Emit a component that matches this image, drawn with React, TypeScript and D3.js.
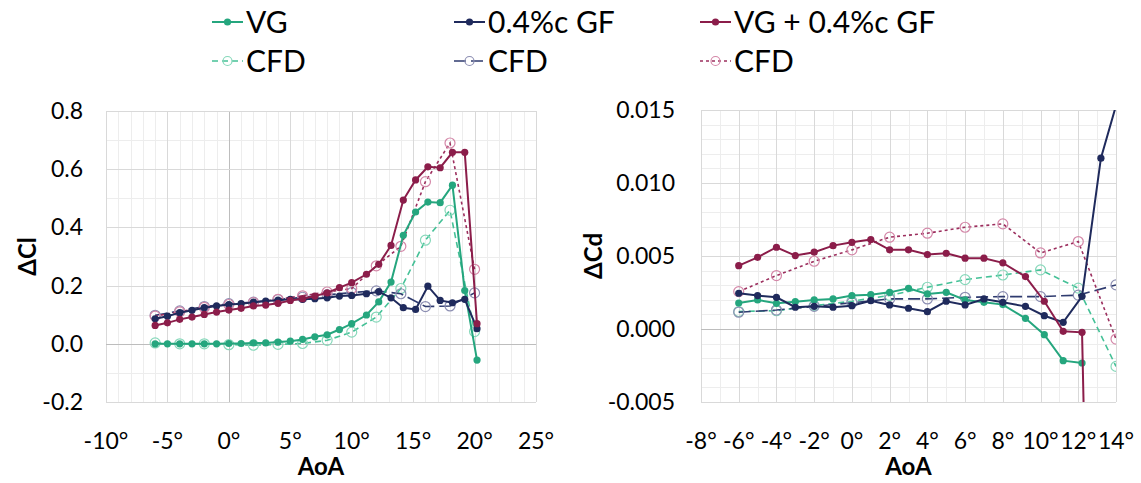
import * as d3 from "d3";

const FONT = "Lato, 'Open Sans', sans-serif";

// colours
const green = "#25a67e";
const navy = "#1f2a5c";
const maroon = "#8b1d4a";
const greenCfd = "#45c197";
const navyCfd = "#2f3b6f";
const maroonCfd = "#9c2f5e";
const greenRing = "#86d8ba";
const navyRing = "#8c8eb2";
const maroonRing = "#d487a8";

// ---- ΔCl panel (left) ----
const clAoa = [-6, -5, -4, -3, -2, -1, 0, 1, 2, 3, 4, 5, 6, 7, 8, 9, 10, 11.2, 12.2, 13.2, 14.2, 15.2, 16.2, 17.2, 18.2, 19.2, 20.2];
const clVG = [0, 0, 0, 0, 0, 0, 0.001, 0.001, 0.003, 0.003, 0.006, 0.009, 0.015, 0.024, 0.031, 0.049, 0.069, 0.099, 0.144, 0.212, 0.373, 0.453, 0.487, 0.485, 0.545, 0.183, -0.056];
const clGF = [0.086, 0.095, 0.107, 0.115, 0.124, 0.13, 0.135, 0.138, 0.143, 0.147, 0.15, 0.153, 0.153, 0.155, 0.158, 0.164, 0.166, 0.172, 0.179, 0.158, 0.124, 0.118, 0.198, 0.149, 0.141, 0.153, 0.052];
const clVGGF = [0.063, 0.072, 0.084, 0.092, 0.101, 0.109, 0.116, 0.122, 0.13, 0.133, 0.139, 0.149, 0.155, 0.164, 0.175, 0.193, 0.21, 0.239, 0.273, 0.338, 0.494, 0.563, 0.608, 0.605, 0.658, 0.658, 0.069];
const clCfdAoa = [-6, -4, -2, 0, 2, 4, 6, 8, 10, 12, 14, 16, 18, 20];
const clCfdVG = [0.003, 0, 0, -0.003, -0.005, -0.002, 0.001, 0.012, 0.04, 0.092, 0.19, 0.356, 0.459, 0.042];
const clCfdGF = [0.098, 0.113, 0.128, 0.138, 0.143, 0.152, 0.16, 0.168, 0.176, 0.182, 0.172, 0.128, 0.13, 0.175];
const clCfdVGGF = [0.095, 0.11, 0.125, 0.135, 0.142, 0.153, 0.165, 0.178, 0.19, 0.268, 0.335, 0.557, 0.69, 0.256];

// ---- ΔCd panel (right) ----
const cdAoa = [-6, -5, -4, -3, -2, -1, 0, 1, 2, 3, 4, 5, 6, 7, 8, 9.2, 10.2, 11.2, 12.2, 13.2, 14.2];
const cdVG = [0.00178, 0.00199, 0.00176, 0.00187, 0.00199, 0.00206, 0.00229, 0.00235, 0.00251, 0.00279, 0.0024, 0.00251, 0.00199, 0.00183, 0.00167, 0.00073, -0.00039, -0.00217, -0.00233, null, null];
const cdGF = [0.00245, 0.00229, 0.00217, 0.00149, 0.00155, 0.00149, 0.0016, 0.00194, 0.00165, 0.00142, 0.00119, 0.0019, 0.00165, 0.00206, 0.00183, 0.00155, 0.00091, 0.00046, 0.00224, 0.0117, 0.0162];
const cdVGGF = [0.00434, 0.00491, 0.0056, 0.00503, 0.00526, 0.00571, 0.00594, 0.00613, 0.00542, 0.00542, 0.0051, 0.00519, 0.00485, 0.00485, 0.00453, 0.00359, 0.0019, -0.00016, -0.00023, -0.06, null];
const cdCfdAoa = [-6, -4, -2, 0, 2, 4, 6, 8, 10, 12, 14];
const cdCfdVG = [0.0012, 0.00125, 0.0016, 0.0019, 0.0023, 0.00286, 0.00338, 0.0037, 0.00405, 0.0028, -0.00256];
const cdCfdGF = [0.00115, 0.0013, 0.00155, 0.0018, 0.00206, 0.00206, 0.00217, 0.00222, 0.00222, 0.00232, 0.00302];
const cdCfdVGGF = [0.00256, 0.00366, 0.00464, 0.00542, 0.00629, 0.00656, 0.00697, 0.0072, 0.00521, 0.00599, -0.00069];

const legendNames = ["VG", "0.4%c GF", "VG + 0.4%c GF"];

type Series = {
  x: number[];
  y: (number | null)[];
  color: string;
  width: number;
  dash?: string;
  ring?: string;
};

type PanelProps = {
  id: string;
  left: number;
  right: number;
  top: number;
  bottom: number;
  xDomain: [number, number];
  yDomain: [number, number];
  xMajor: number;
  yMajor: number;
  yMinor: number;
  yFmt: (v: number) => string;
  yLabelGap: number;
  yTitle: string;
  yTitleX: number;
  zeroX: boolean;
  series: Series[];
};

function Panel(p: PanelProps) {
  const x = d3.scaleLinear().domain(p.xDomain).range([p.left, p.right]);
  const y = d3.scaleLinear().domain(p.yDomain).range([p.bottom, p.top]);
  const px = (v: number) => Math.round(v) + 0.5;

  const xMinorTicks = d3.range(p.xDomain[0], p.xDomain[1] + 0.001, 1);
  const xMajorTicks = d3.range(p.xDomain[0], p.xDomain[1] + 0.001, p.xMajor);
  const nMinorY = Math.round((p.yDomain[1] - p.yDomain[0]) / p.yMinor);
  const yMinorTicks = d3.range(0, nMinorY + 1).map((i) => p.yDomain[0] + i * p.yMinor);
  const nMajorY = Math.round((p.yDomain[1] - p.yDomain[0]) / p.yMajor);
  const yMajorTicks = d3.range(0, nMajorY + 1).map((i) => p.yDomain[0] + i * p.yMajor);

  return (
    <g>
      <defs>
        <clipPath id={p.id}>
          <rect x={p.left} y={p.top} width={p.right - p.left} height={p.bottom - p.top} />
        </clipPath>
      </defs>
      {/* grid */}
      {xMinorTicks.map((t) => (
        <line key={"xm" + t} x1={px(x(t))} x2={px(x(t))} y1={p.top} y2={p.bottom} stroke="#ededed" />
      ))}
      {yMinorTicks.map((t, i) => (
        <line key={"ym" + i} x1={p.left} x2={p.right} y1={px(y(t))} y2={px(y(t))} stroke="#ededed" />
      ))}
      {xMajorTicks.map((t) => (
        <line key={"xM" + t} x1={px(x(t))} x2={px(x(t))} y1={p.top} y2={p.bottom}
          stroke={p.zeroX && Math.abs(t) < 1e-9 ? "#bdbdbd" : "#d9d9d9"} />
      ))}
      {yMajorTicks.map((t, i) => (
        <line key={"yM" + i} x1={p.left} x2={p.right} y1={px(y(t))} y2={px(y(t))}
          stroke={Math.abs(t) < 1e-9 ? "#bdbdbd" : "#d9d9d9"} />
      ))}
      {/* tick labels */}
      {yMajorTicks.map((t, i) => (
        <text key={"yl" + i} x={p.left - p.yLabelGap} y={y(t) + 8} textAnchor="end"
          fontFamily={FONT} fontSize={23} fill="#000">{p.yFmt(t)}</text>
      ))}
      {xMajorTicks.map((t) => (
        <text key={"xl" + t} x={x(t)} y={449} textAnchor="middle"
          fontFamily={FONT} fontSize={23} fill="#000">{`${t}°`}</text>
      ))}
      <text x={(p.left + p.right) / 2} y={475} textAnchor="middle" fontFamily={FONT}
        fontSize={24} fontWeight="bold">AoA</text>
      <text transform={`translate(${p.yTitleX},${(p.top + p.bottom) / 2}) rotate(-90)`}
        textAnchor="middle" fontFamily={FONT} fontSize={24} fontWeight="bold">{p.yTitle}</text>
      {/* series */}
      <g clipPath={`url(#${p.id})`}>
        {p.series.map((s, si) => {
          const pts = s.x.map((xv, i) => [xv, s.y[i]] as [number, number | null]);
          const line = d3.line<[number, number | null]>()
            .defined((d) => d[1] !== null)
            .x((d) => x(d[0]))
            .y((d) => y(d[1] as number));
          return (
            <g key={si}>
              <path d={line(pts) ?? ""} fill="none" stroke={s.color} strokeWidth={s.width}
                strokeDasharray={s.dash} />
              {pts.filter((d) => d[1] !== null).map((d, i) =>
                s.ring ? (
                  <circle key={i} cx={x(d[0])} cy={y(d[1] as number)} r={5} fill="none"
                    stroke={s.ring} strokeWidth={1.2} />
                ) : (
                  <circle key={i} cx={x(d[0])} cy={y(d[1] as number)} r={3.6} fill={s.color} />
                )
              )}
            </g>
          );
        })}
      </g>
    </g>
  );
}

function LegendItem({ x, y, color, ring, dash, label }: { x: number; y: number; color: string; ring?: string; dash?: string; label: string }) {
  return (
    <g>
      <line x1={x} x2={x + 31} y1={y} y2={y} stroke={color} strokeWidth={ring ? 1.4 : 2} strokeDasharray={dash} />
      {ring ? (
        <circle cx={x + 15.5} cy={y} r={4.5} fill="none" stroke={ring} strokeWidth={1.2} />
      ) : (
        <circle cx={x + 15.5} cy={y} r={3.6} fill={color} />
      )}
      <text x={x + 34} y={y + 11} fontFamily={FONT} fontSize={30} fill="#000">{label}</text>
    </g>
  );
}

export default function App() {
  const expColors = [green, navy, maroon];
  const cfdColors = [greenCfd, navyCfd, maroonCfd];
  const rings = [greenRing, navyRing, maroonRing];
  const dashes = ["6,4", "12,5", "3,3"];
  const legendX = [212, 454, 700];

  const clSeries: Series[] = [
    { x: clCfdAoa, y: clCfdVG, color: greenCfd, width: 1.6, dash: dashes[0], ring: greenRing },
    { x: clCfdAoa, y: clCfdGF, color: navyCfd, width: 1.6, dash: dashes[1], ring: navyRing },
    { x: clCfdAoa, y: clCfdVGGF, color: maroonCfd, width: 1.6, dash: dashes[2], ring: maroonRing },
    { x: clAoa, y: clVG, color: green, width: 2 },
    { x: clAoa, y: clGF, color: navy, width: 2 },
    { x: clAoa, y: clVGGF, color: maroon, width: 2 },
  ];
  const cdSeries: Series[] = [
    { x: cdCfdAoa, y: cdCfdVG, color: greenCfd, width: 1.6, dash: dashes[0], ring: greenRing },
    { x: cdCfdAoa, y: cdCfdGF, color: navyCfd, width: 1.6, dash: dashes[1], ring: navyRing },
    { x: cdCfdAoa, y: cdCfdVGGF, color: maroonCfd, width: 1.6, dash: dashes[2], ring: maroonRing },
    { x: cdAoa, y: cdVG, color: green, width: 2 },
    { x: cdAoa, y: cdGF, color: navy, width: 2 },
    { x: cdAoa, y: cdVGGF, color: maroon, width: 2 },
  ];

  return (
    <svg width={1141} height={483} style={{ position: "absolute", left: 0, top: 0, background: "#fff" }}>
      {legendNames.map((name, i) => (
        <g key={name}>
          <LegendItem x={legendX[i]} y={22} color={expColors[i]} label={name} />
          <LegendItem x={legendX[i]} y={61} color={cfdColors[i]} ring={rings[i]} dash={dashes[i]} label="CFD" />
        </g>
      ))}
      <Panel id="clipCl" left={106} right={536} top={111} bottom={402}
        xDomain={[-10, 25]} yDomain={[-0.2, 0.8]} xMajor={5} yMajor={0.2} yMinor={0.1}
        yFmt={(v) => d3.format(".1f")(v).replace("−", "-")} yLabelGap={23}
        yTitle="ΔCl" yTitleX={36} zeroX={true} series={clSeries} />
      <Panel id="clipCd" left={701} right={1116} top={110} bottom={402}
        xDomain={[-8, 14]} yDomain={[-0.005, 0.015]} xMajor={2} yMajor={0.005} yMinor={0.001}
        yFmt={(v) => d3.format(".3f")(v).replace("−", "-")} yLabelGap={26}
        yTitle="ΔCd" yTitleX={602} zeroX={false} series={cdSeries} />
    </svg>
  );
}
